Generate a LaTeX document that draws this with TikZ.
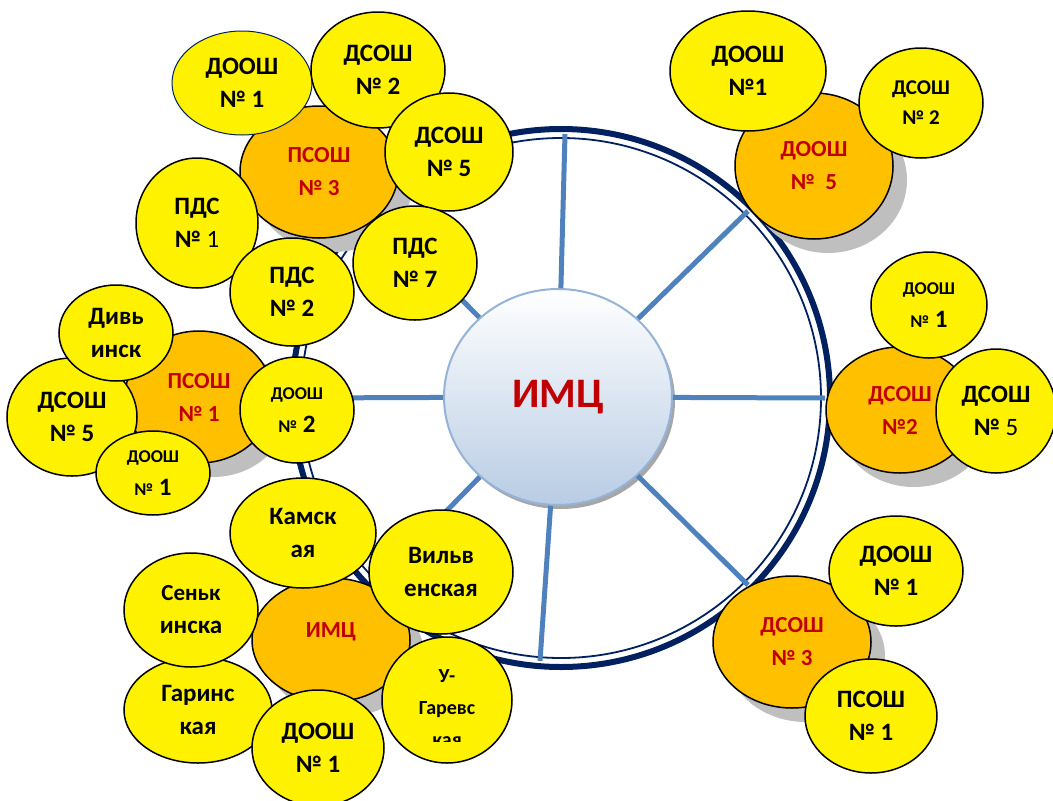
\documentclass[tikz,border=0pt]{standalone}
\usepackage{fontspec}
\setmainfont{Carlito}
\usepackage{xcolor}
\usetikzlibrary{shapes.geometric,shadows}
\definecolor{ringblue}{HTML}{002060}
\definecolor{spokeblue}{HTML}{4F81BD}
\definecolor{orng}{HTML}{FFC000}
\definecolor{darkred}{HTML}{C00000}
\definecolor{shd}{HTML}{BFBFBF}
\definecolor{paleblue}{HTML}{B8CCE4}
\definecolor{edgeblue}{HTML}{95B3D7}
\newcommand{\sm}[1]{{\fontsize{18}{22}\selectfont #1}}

\begin{document}
\begin{tikzpicture}[x=1pt,y=-1pt,
  sz/.style 2 args={minimum width=#1pt,minimum height=#2pt},
  blob/.style={ellipse,draw,line width=1.5pt,inner sep=0pt,align=center,
    font=\bfseries\fontsize{25}{33}\selectfont},
  yel/.style={blob,fill=yellow},
  org/.style={blob,fill=orng,text=darkred,font=\bfseries\fontsize{23}{33}\selectfont,
    drop shadow={shadow xshift=14pt,shadow yshift=-14pt,fill=shd,opacity=1}},
  spoke/.style={spokeblue,line width=5pt}]
\useasboundingbox (0,0) rectangle (1053,801);

\coordinate (ctr) at (561,398);
\draw[ringblue,line width=6pt] (ctr) circle (269pt);
\draw[ringblue,line width=1.8pt] (ctr) circle (260pt);

\coordinate (s1) at (565,134);
\coordinate (s2) at (748,211);
\coordinate (s3) at (825,398);
\coordinate (s4) at (748,585);
\coordinate (s5) at (540,661);
\coordinate (s6) at (374,585);
\coordinate (s7) at (297,398);
\coordinate (s8) at (374,211);

\node (imc) [ellipse,sz={228}{216},draw=edgeblue,line width=2pt,top color=white,bottom color=paleblue,
  text=darkred,font=\bfseries\fontsize{42}{42}\selectfont,
  drop shadow={shadow xshift=3pt,shadow yshift=-4pt,fill=black!35,opacity=1}]
  at (558,397) {\raisebox{-13pt}{ИМЦ}};
\foreach \s in {s1,s2,s3,s4,s5,s6,s7,s8}
  \draw[spoke] (imc) -- (\s);

% upper left
\node (psosh3) [org,sz={158}{132}] at (319,172) {ПСОШ\\№ 3};
\node (tl1) [yel,sz={140}{104},draw=ringblue,line width=1pt] at (242,83) {ДООШ\\№ 1};
\node (tl2) [yel,sz={134}{116}] at (378,70) {ДСОШ\\№ 2};
\node (tl3) [yel,sz={128}{118}] at (449,152) {ДСОШ\\№ 5};
\node (tl4) [yel,sz={122}{130}] at (197,223) {ПДС\\№ \textmd{1}};
\node (tl5) [yel,sz={124}{108}] at (292,292) {ПДС\\№ 2};
\node (tl6) [yel,sz={124}{114}] at (415,263) {ПДС\\№ 7};

% left
\node (psosh1) [org,sz={148}{132}] at (199,397) {ПСОШ\\№ 1};
\node (l2) [yel,sz={130}{118}] at (72,417) {ДСОШ\\№ 5};
\node (l1) [yel,sz={114}{96}] at (116,333) {Дивь\\инск};
\node (l3) [yel,sz={114}{84}] at (153,473) {\sm{ДООШ}\\\sm{№} 1};
\node (l4) [yel,sz={114}{106}] at (297,410) {\sm{ДООШ}\\\sm{№} 2};

% lower left
\node (imc2) [org,sz={158}{124}] at (331,640) {\raisebox{20pt}{ИМЦ}};
\node (b4) [yel,sz={148}{106}] at (198,710) {Гаринс\\кая};
\node (b3) [yel,sz={134}{114}] at (191,610) {\fontsize{23}{33}\selectfont Сеньк\\инска};
\node (b1) [yel,sz={146}{110}] at (303,533) {Камск\\ая};
\node (b2) [yel,sz={144}{124}] at (441,572) {Вильв\\енская};
\node (b5) [yel,sz={132}{116}] at (318,748) {ДООШ\\№ 1};
\node (b6) [yel,sz={130}{126}] at (447,700) {};
\begin{scope}
  \clip (380,620) rectangle (515,741);
  \node[align=center,font=\bfseries\fontsize{20}{32}\selectfont] at (447,708) {У-\\Гаревс\\кая};
\end{scope}

% upper right
\node (dosh5) [org,sz={158}{146}] at (814,166) {ДООШ\\№\ \ 5};
\node (tr1) [yel,sz={156}{120}] at (748,71) {ДООШ\\№1};
\node (tr2) [yel,sz={124}{110},font=\bfseries\fontsize{21}{30}\selectfont] at (921,103) {ДСОШ\\№ 2};

% right
\node (dsosh2) [org,sz={148}{126}] at (900,410) {ДСОШ\\№2};
\node (r1) [yel,sz={116}{106}] at (929,305) {\sm{ДООШ}\\\sm{№} 1};
\node (r2) [yel,sz={120}{124}] at (996,411) {ДСОШ\\№ \textmd{5}};

% lower right
\node (dsosh3) [org,sz={158}{132}] at (792,642) {ДСОШ\\№ 3};
\node (br1) [yel,sz={134}{110}] at (896,571) {ДООШ\\№ 1};
\node (br2) [yel,sz={132}{114}] at (871,716) {ПСОШ\\№ 1};
\end{tikzpicture}
\end{document}
